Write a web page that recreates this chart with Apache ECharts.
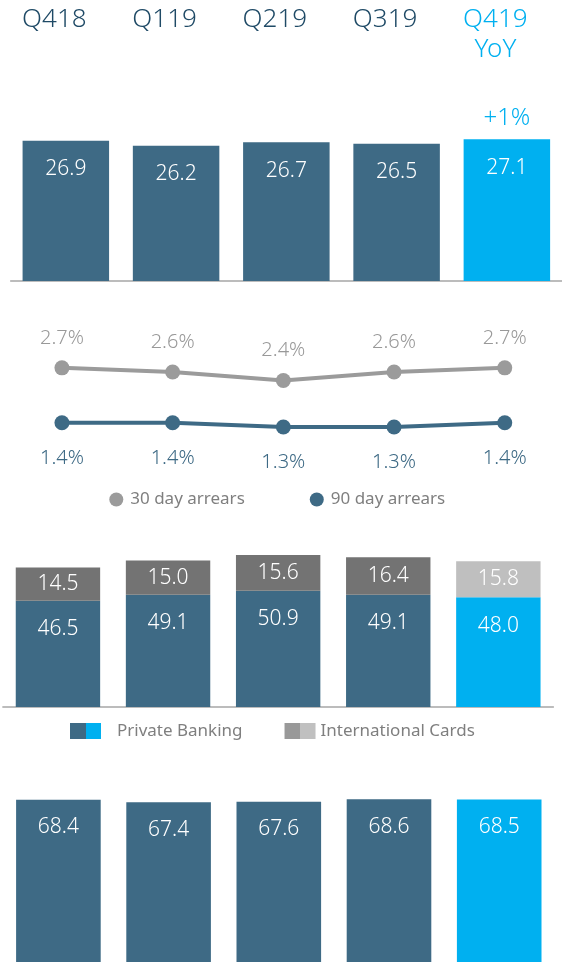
<!DOCTYPE html>
<html>
<head>
<meta charset="utf-8">
<script src="https://cdn.jsdelivr.net/npm/echarts@6/dist/echarts.min.js"></script>
<style>
  html, body { margin: 0; padding: 0; background: #fff; }
  #chart { width: 562px; height: 962px; }
</style>
</head>
<body>
<div id="chart"></div>
<script>
// data
const quarters = ['Q418', 'Q119', 'Q219', 'Q319', 'Q419'];
const headerLabels = ['Q418', 'Q119', 'Q219', 'Q319', 'Q419\nYoY'];
const topValues = [26.9, 26.2, 26.7, 26.5, 27.1];
const yoyChange = '+1%';
const arrears30 = [2.7, 2.6, 2.4, 2.6, 2.7];
const arrears90 = [1.4, 1.4, 1.3, 1.3, 1.4];
const privateBanking = [46.5, 49.1, 50.9, 49.1, 48.0];
const internationalCards = [14.5, 15.0, 15.6, 16.4, 15.8];
const bottomValues = [68.4, 67.4, 67.6, 68.6, 68.5];

const DARK = '#3e6a85';
const CYAN = '#00b0f0';
const GREY_LINE = '#9b9b9b';
const FONT = 'Noto Sans';
const WEIGHT = 300;
const last = quarters.length - 1;

const chart = echarts.init(document.getElementById('chart'));

// colour the last column cyan (or light grey for the cards part)
function colored(values, base, lastColor) {
  return values.map((v, i) => ({ value: v, itemStyle: { color: i === last ? lastColor : base } }));
}

const barLabel = (dist) => ({
  show: true,
  position: 'insideTop',
  distance: dist,
  color: '#fff',
  fontSize: 21,
  fontWeight: WEIGHT,
  fontFamily: FONT,
  formatter: (p) => p.value.toFixed(1)
});

const hidden = { show: false };

const option = {
  backgroundColor: '#fff',
  animation: false,
  textStyle: { fontFamily: FONT },
  grid: [
    { left: 10.7, width: 553, top: 132.5, height: 148.5 },
    { left: 6.6, width: 553.5, top: 334, height: 148 },
    { left: 2.9, width: 550.5, top: 547, height: 160 },
    { left: 3.3, width: 551, top: 796, height: 189 }
  ],
  xAxis: [
    {
      type: 'category', gridIndex: 0, data: quarters,
      axisLine: { lineStyle: { color: '#a6a6a6', width: 1.5 } },
      axisTick: hidden, axisLabel: hidden
    },
    {
      type: 'category', gridIndex: 0, data: quarters, position: 'top',
      axisLine: hidden, axisTick: hidden,
      axisLabel: {
        interval: 0,
        margin: 127.5,
        verticalAlign: 'top',
        padding: [0, 23, 0, 0],
        fontSize: 26,
        fontWeight: WEIGHT,
        lineHeight: 30,
        fontFamily: FONT,
        formatter: (v, i) => headerLabels[i],
        color: (v, i) => (i === last ? CYAN : '#1f4a66')
      }
    },
    { type: 'category', gridIndex: 1, data: quarters, show: false },
    {
      type: 'category', gridIndex: 2, data: quarters,
      axisLine: { lineStyle: { color: '#a6a6a6', width: 1.5 } },
      axisTick: hidden, axisLabel: hidden
    },
    { type: 'category', gridIndex: 3, data: quarters, show: false }
  ],
  yAxis: [
    { type: 'value', gridIndex: 0, min: 8, max: 28, show: false, splitLine: hidden },
    { type: 'value', gridIndex: 1, min: 0, max: 3.5, show: false, splitLine: hidden },
    { type: 'value', gridIndex: 2, min: 0, max: 70, show: false, splitLine: hidden },
    { type: 'value', gridIndex: 3, min: 0, max: 70, show: false, splitLine: hidden }
  ],
  legend: [
    {
      left: 104.3, top: 486,
      icon: 'circle', itemWidth: 14, itemHeight: 14, itemGap: 65,
      selectedMode: false,
      textStyle: { color: '#7f7f7f', fontSize: 17, fontFamily: FONT, padding: [0, 0, 0, 2] },
      data: ['30 day arrears', '90 day arrears']
    },
    {
      left: 65, top: 717.5,
      icon: 'rect', itemWidth: 31, itemHeight: 16, itemGap: 42,
      selectedMode: false,
      textStyle: { color: '#7f7f7f', fontSize: 17, fontFamily: FONT },
      data: [
        {
          name: 'Private Banking',
          textStyle: { padding: [0, 0, 0, 11] },
          itemStyle: {
            color: {
              type: 'linear', x: 0, y: 0, x2: 1, y2: 0,
              colorStops: [
                { offset: 0, color: DARK }, { offset: 0.5, color: DARK },
                { offset: 0.5, color: CYAN }, { offset: 1, color: CYAN }
              ]
            }
          }
        },
        {
          name: 'International Cards',
          itemStyle: {
            color: {
              type: 'linear', x: 0, y: 0, x2: 1, y2: 0,
              colorStops: [
                { offset: 0, color: '#999999' }, { offset: 0.5, color: '#999999' },
                { offset: 0.5, color: '#c0c0c0' }, { offset: 1, color: '#c0c0c0' }
              ]
            }
          }
        }
      ]
    }
  ],
  series: [
    // panel 1: quarterly bars
    {
      type: 'bar', xAxisIndex: 0, yAxisIndex: 0,
      barWidth: 86.5,
      data: colored(topValues, DARK, CYAN),
      label: barLabel(18),
      markPoint: {
        symbol: 'rect', symbolSize: 1,
        itemStyle: { color: 'rgba(0,0,0,0)' },
        label: {
          show: true, position: 'inside', offset: [0, -21],
          formatter: yoyChange, color: CYAN, fontSize: 24, fontWeight: WEIGHT, fontFamily: FONT
        },
        data: [{ coord: [quarters[last], topValues[last]] }]
      }
    },
    // panel 2: arrears lines
    {
      name: '30 day arrears', type: 'line', xAxisIndex: 2, yAxisIndex: 1,
      data: arrears30, color: GREY_LINE,
      symbol: 'circle', symbolSize: 15,
      lineStyle: { width: 4, color: GREY_LINE },
      label: {
        show: true, position: 'top', distance: 12.5,
        color: '#999999', fontSize: 20, fontWeight: WEIGHT, fontFamily: FONT,
        formatter: (p) => p.value.toFixed(1) + '%'
      }
    },
    {
      name: '90 day arrears', type: 'line', xAxisIndex: 2, yAxisIndex: 1,
      data: arrears90, color: DARK,
      symbol: 'circle', symbolSize: 15,
      lineStyle: { width: 4, color: DARK },
      label: {
        show: true, position: 'bottom', distance: 18,
        color: DARK, fontSize: 20, fontWeight: WEIGHT, fontFamily: FONT,
        formatter: (p) => p.value.toFixed(1) + '%'
      }
    },
    // panel 3: stacked split
    {
      name: 'Private Banking', type: 'bar', xAxisIndex: 3, yAxisIndex: 2,
      stack: 'split', barWidth: 84.4, color: DARK,
      data: colored(privateBanking, DARK, CYAN),
      label: barLabel(18)
    },
    {
      name: 'International Cards', type: 'bar', xAxisIndex: 3, yAxisIndex: 2,
      stack: 'split', barWidth: 84.4, color: '#737373',
      data: colored(internationalCards, '#737373', '#bfbfbf'),
      label: Object.assign(barLabel(0), { position: 'inside' })
    },
    // panel 4: bottom bars
    {
      type: 'bar', xAxisIndex: 4, yAxisIndex: 3,
      barWidth: 84.6,
      data: colored(bottomValues, DARK, CYAN),
      label: barLabel(17)
    }
  ]
};

chart.setOption(option);
</script>
</body>
</html>
